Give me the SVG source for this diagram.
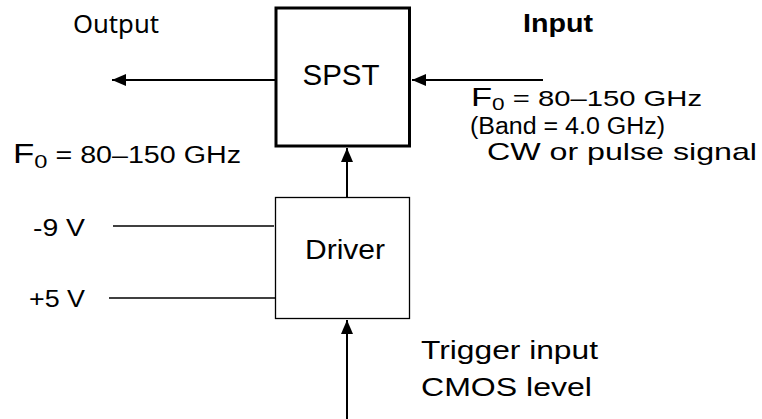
<svg xmlns="http://www.w3.org/2000/svg" width="762" height="419" viewBox="0 0 762 419">
<defs>
<style>
text{font-family:"Liberation Sans",Arial,sans-serif;fill:#000}
.b{font-weight:bold}
.ln{stroke:#000;stroke-width:2;fill:none}
.thin{stroke:#000;stroke-width:1.3;fill:none}
</style>
<marker id="ah2" viewBox="0 0 14 12" refX="14" refY="6" markerWidth="14" markerHeight="12" markerUnits="userSpaceOnUse" orient="auto">
<path d="M0,0 L14,6 L0,12 z" fill="#000"/>
</marker>
</defs>
<rect width="762" height="419" fill="#fff"/>
<g id="connectors">
<line class="ln" x1="275" y1="80" x2="112" y2="80" marker-end="url(#ah2)"/>
<line class="ln" x1="543" y1="80" x2="412" y2="80" marker-end="url(#ah2)"/>
<line class="ln" x1="347" y1="197" x2="347" y2="148" marker-end="url(#ah2)"/>
<line class="ln" x1="347" y1="419" x2="347" y2="320" marker-end="url(#ah2)"/>
<line class="thin" x1="113" y1="226" x2="274" y2="226"/>
<line class="thin" x1="109" y1="298" x2="275" y2="298"/>
</g>
<g id="spst">
<rect x="276" y="8" width="133.5" height="138" fill="#fff" stroke="#000" stroke-width="3"/>
<text x="341" y="85" text-anchor="middle" font-size="29" textLength="77" lengthAdjust="spacingAndGlyphs">SPST</text>
</g>
<g id="driver">
<rect x="275.5" y="197.5" width="134" height="121" fill="#fff" stroke="#000" stroke-width="1.3"/>
<text x="345" y="259" text-anchor="middle" font-size="27" textLength="80" lengthAdjust="spacingAndGlyphs">Driver</text>
</g>
<g id="labels">
<text x="73" y="33" style="font-family:'Noto Sans',sans-serif" font-size="25" textLength="86" lengthAdjust="spacingAndGlyphs">Output</text>
<text x="523" y="32" class="b" font-size="25" textLength="70" lengthAdjust="spacingAndGlyphs">Input</text>
<text x="471" y="106" textLength="231" lengthAdjust="spacingAndGlyphs"><tspan font-size="26">F</tspan><tspan font-size="17" dy="4">0</tspan><tspan font-size="22" dy="-4"> = 80–150 GHz</tspan></text>
<text x="470" y="134" font-size="23" textLength="195" lengthAdjust="spacingAndGlyphs">(Band = 4.0 GHz)</text>
<text x="487" y="160" font-size="24" textLength="270" lengthAdjust="spacingAndGlyphs">CW or pulse signal</text>
<text x="13" y="163" textLength="228" lengthAdjust="spacingAndGlyphs"><tspan font-size="28">F</tspan><tspan font-size="19" dy="5">0</tspan><tspan font-size="23" dy="-5"> = 80–150 GHz</tspan></text>
<text x="33" y="236" font-size="24" textLength="52" lengthAdjust="spacingAndGlyphs">-9 V</text>
<text x="29" y="307" font-size="24" textLength="56" lengthAdjust="spacingAndGlyphs">+5 V</text>
<text x="421" y="359" font-size="26" textLength="177" lengthAdjust="spacingAndGlyphs">Trigger input</text>
<text x="421" y="396" font-size="26" textLength="171" lengthAdjust="spacingAndGlyphs">CMOS level</text>
</g>
</svg>
